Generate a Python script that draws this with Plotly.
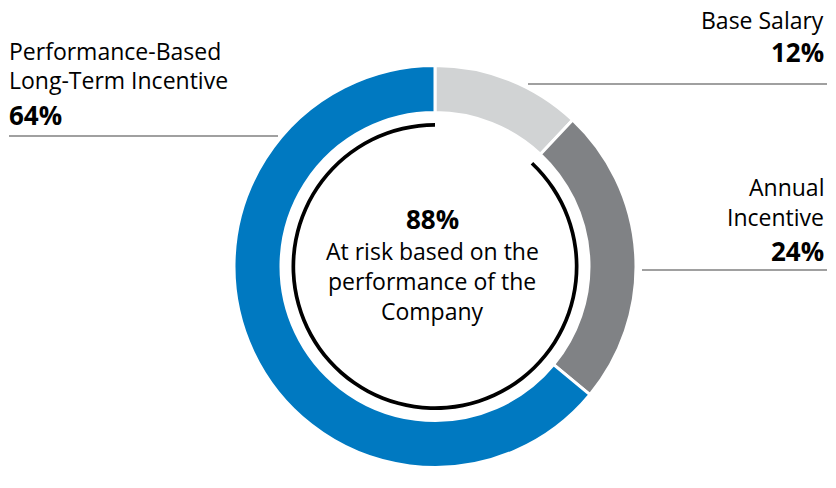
import plotly.graph_objects as go

W, H = 836, 488

# ---- data ----
categories = ["Base Salary", "Annual Incentive", "Performance-Based Long-Term Incentive"]
shares = [12, 24, 64]
slice_colors = ["#D1D3D4", "#808285", "#0079C1"]
at_risk_share = 88
fixed_share = 100 - at_risk_share

label_lines = {
    "Base Salary": ["Base Salary"],
    "Annual Incentive": ["Annual", "Incentive"],
    "Performance-Based Long-Term Incentive": ["Performance-Based", "Long-Term Incentive"],
}
center_lines = ["At risk based on the", "performance of the", "Company"]

FONT = "Open Sans"

# ---- geometry (pixels) ----
cx, cy = 435, 266.5
r_out, r_in = 201, 154
r_ring_out, r_ring_in = 143.5, 139.8


def dom(r):
    return dict(
        x=[(cx - r) / W, (cx + r) / W],
        y=[(H - cy - r) / H, (H - cy + r) / H],
    )


fig = go.Figure()
fig.add_trace(go.Pie(
    labels=categories, values=shares, sort=False, direction="clockwise",
    rotation=0, hole=r_in / r_out, domain=dom(r_out),
    marker=dict(colors=slice_colors, line=dict(color="white", width=3)),
    textinfo="none", hoverinfo="label+percent", showlegend=False,
))
fig.add_trace(go.Pie(
    labels=["Fixed", "At risk"], values=[fixed_share, at_risk_share], sort=False,
    direction="clockwise", rotation=0, hole=r_ring_in / r_ring_out,
    domain=dom(r_ring_out),
    marker=dict(colors=["rgba(0,0,0,0)", "#000000"], line=dict(width=0)),
    textinfo="none", hoverinfo="skip", showlegend=False,
))

annotations = []


def txt(text, x, y, anchor, size, bold=False, align=None):
    annotations.append(dict(
        text=f"<b>{text}</b>" if bold else text,
        x=x / W, y=1 - y / H, xref="paper", yref="paper",
        xanchor=anchor, yanchor="middle", showarrow=False,
        align=align or anchor,
        font=dict(family=FONT, size=size, color="#000000"),
    ))


# left label (LTI)
lti = categories[2]
for line, y in zip(label_lines[lti], [51, 80]):
    txt(line, 7, y, "left", 23)
txt(f"{shares[2]}%", 7, 115, "left", 26, bold=True)

# base salary
for line, y in zip(label_lines[categories[0]], [20]):
    txt(line, 826, y, "right", 23)
txt(f"{shares[0]}%", 826, 52, "right", 26, bold=True)

# annual incentive
for line, y in zip(label_lines[categories[1]], [187, 217]):
    txt(line, 826, y, "right", 23)
txt(f"{shares[1]}%", 826, 251, "right", 26, bold=True)

# center
txt(f"{at_risk_share}%", 432, 219, "center", 26, bold=True)
for line, y in zip(center_lines, [251, 281, 311]):
    txt(line, 432, y, "center", 23)

shapes = []
for x0, x1, y in [(528, 827, 84), (642, 827, 270), (9, 278, 136)]:
    shapes.append(dict(type="line", xref="paper", yref="paper",
                       x0=x0 / W, x1=x1 / W, y0=1 - y / H, y1=1 - y / H,
                       line=dict(color="#808080", width=1.5)))

fig.update_layout(
    width=W, height=H, margin=dict(l=0, r=0, t=0, b=0),
    paper_bgcolor="white", plot_bgcolor="white",
    annotations=annotations, shapes=shapes, showlegend=False,
)
fig.write_html("out.html", config={"displayModeBar": False},
               post_script="document.body.style.margin='0';document.body.style.overflow='hidden';")
